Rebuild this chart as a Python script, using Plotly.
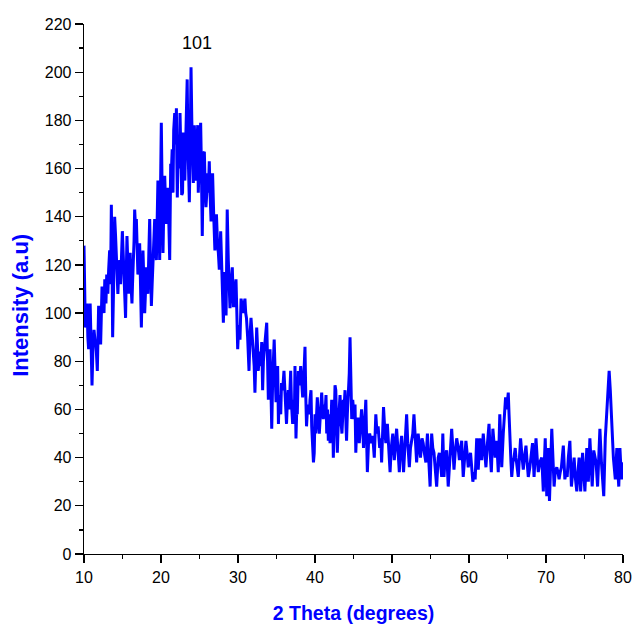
import plotly.graph_objects as go

two_theta = [
    10.0, 10.17, 10.3, 10.4, 10.5, 10.6, 10.8, 10.9, 11.04, 11.15, 11.3, 11.45, 11.56, 11.73, 11.9,
    12.05, 12.16, 12.34, 12.45, 12.6, 12.7, 12.85, 12.95, 13.1, 13.2, 13.33, 13.45, 13.55, 13.65, 13.72,
    13.85, 13.98, 14.1, 14.2, 14.3, 14.4, 14.52, 14.63, 14.75, 14.85, 14.98, 15.1, 15.2, 15.3, 15.4,
    15.5, 15.58, 15.7, 15.8, 15.9, 16.0, 16.1, 16.23, 16.3, 16.4, 16.5, 16.58, 16.7, 16.8, 16.9,
    17.0, 17.1, 17.23, 17.35, 17.45, 17.55, 17.66, 17.78, 17.88, 18.0, 18.1, 18.2, 18.3, 18.42, 18.53,
    18.65, 18.75, 18.85, 18.96, 19.07, 19.18, 19.3, 19.4, 19.5, 19.6, 19.72, 19.83, 19.93, 20.04, 20.15,
    20.26, 20.39, 20.48, 20.6, 20.7, 20.8, 20.9, 21.0, 21.13, 21.26, 21.34, 21.45, 21.56, 21.65, 21.78,
    21.9, 22.0, 22.06, 22.12, 22.25, 22.35, 22.47, 22.6, 22.69, 22.8, 22.9, 23.0, 23.1, 23.2, 23.3,
    23.4, 23.5, 23.6, 23.68, 23.8, 23.9, 24.0, 24.1, 24.2, 24.33, 24.45, 24.55, 24.65, 24.77, 24.84,
    24.98, 25.07, 25.15, 25.25, 25.36, 25.5, 25.63, 25.75, 25.84, 25.93, 26.05, 26.15, 26.27, 26.37, 26.5,
    26.6, 26.7, 26.85, 27.0, 27.1, 27.2, 27.35, 27.45, 27.57, 27.65, 27.75, 27.9, 28.0, 28.1, 28.2,
    28.3, 28.45, 28.6, 28.74, 28.87, 28.96, 29.1, 29.26, 29.4, 29.5, 29.6, 29.74, 29.85, 29.96, 30.1,
    30.26, 30.4, 30.55, 30.69, 30.8, 30.9, 31.0, 31.1, 31.25, 31.43, 31.55, 31.69, 31.85, 31.99, 32.1,
    32.2, 32.3, 32.43, 32.55, 32.64, 32.75, 32.86, 32.97, 33.08, 33.2, 33.3, 33.45, 33.64, 33.73, 33.84,
    33.94, 34.05, 34.16, 34.27, 34.38, 34.5, 34.7, 34.85, 34.94, 35.0, 35.15, 35.25, 35.35, 35.45, 35.55,
    35.65, 35.8, 35.97, 36.1, 36.23, 36.3, 36.4, 36.53, 36.65, 36.84, 36.95, 37.1, 37.2, 37.31, 37.4,
    37.53, 37.63, 37.7, 37.83, 37.96, 38.14, 38.25, 38.4, 38.55, 38.7, 38.8, 38.9, 39.05, 39.26, 39.35,
    39.48, 39.57, 39.7, 39.8, 39.9, 40.0, 40.1, 40.2, 40.3, 40.45, 40.56, 40.7, 40.87, 40.97, 41.08,
    41.2, 41.3, 41.43, 41.52, 41.63, 41.73, 41.85, 41.95, 42.05, 42.17, 42.3, 42.38, 42.5, 42.6, 42.7,
    42.8, 42.9, 43.0, 43.1, 43.25, 43.38, 43.5, 43.6, 43.68, 43.8, 43.9, 44.03, 44.1, 44.2, 44.32,
    44.45, 44.55, 44.65, 44.77, 44.9, 44.97, 45.1, 45.2, 45.3, 45.45, 45.6, 45.75, 45.9, 46.05, 46.2,
    46.3, 46.45, 46.6, 46.7, 46.8, 46.95, 47.1, 47.3, 47.5, 47.7, 47.9, 48.05, 48.2, 48.4, 48.55,
    48.65, 48.9, 49.05, 49.2, 49.4, 49.6, 49.75, 49.9, 50.1, 50.3, 50.45, 50.6, 50.8, 50.95, 51.1,
    51.25, 51.5, 51.7, 51.9, 52.05, 52.25, 52.4, 52.55, 52.7, 52.85, 53.0, 53.2, 53.4, 53.55, 53.7,
    53.9, 54.05, 54.2, 54.4, 54.6, 54.75, 54.95, 55.15, 55.3, 55.45, 55.6, 55.8, 56.0, 56.15, 56.3,
    56.45, 56.6, 56.75, 56.9, 57.1, 57.3, 57.5, 57.75, 57.9, 58.05, 58.2, 58.4, 58.6, 58.75, 58.9,
    59.05, 59.25, 59.4, 59.6, 59.75, 59.9, 60.05, 60.2, 60.35, 60.5, 60.65, 60.8, 61.0, 61.2, 61.4,
    61.55, 61.65, 61.85, 62.0, 62.2, 62.4, 62.6, 62.75, 62.9, 63.1, 63.25, 63.4, 63.6, 63.8, 64.0,
    64.1, 64.25, 64.45, 64.6, 64.75, 64.9, 65.1, 65.2, 65.3, 65.45, 65.55, 65.7, 65.85, 66.0, 66.1,
    66.25, 66.4, 66.55, 66.7, 66.9, 67.05, 67.2, 67.4, 67.55, 67.7, 67.9, 68.0, 68.25, 68.45, 68.7,
    68.85, 69.0, 69.2, 69.45, 69.65, 69.9, 70.1, 70.3, 70.45, 70.6, 70.75, 70.9, 71.05, 71.2, 71.4,
    71.55, 71.7, 71.85, 72.0, 72.25, 72.45, 72.6, 72.75, 72.9, 73.1, 73.3, 73.45, 73.65, 73.8, 74.0,
    74.15, 74.3, 74.5, 74.75, 74.9, 75.05, 75.3, 75.5, 75.7, 76.0, 76.2, 76.35, 76.5, 76.7, 76.85,
    77.0, 77.2, 77.35, 77.5, 77.7, 77.9, 78.05, 78.2, 78.35, 78.5, 78.6, 78.75, 79.0, 79.2, 79.3,
    79.45, 79.6, 79.7, 79.8, 79.9, 80.0,
]

intensity = [
    128, 94, 100, 104, 90, 85, 104, 88, 70, 84, 93, 88, 87, 76, 103,
    92, 87, 111, 104, 100, 114, 104, 116, 108, 118, 126, 112, 145, 118, 90,
    112, 140, 132, 122, 116, 108, 118, 122, 112, 125, 134, 124, 115, 108, 98,
    118, 132, 120, 108, 118, 125, 112, 104, 112, 119, 130, 143, 135, 139, 128,
    116, 122, 129, 110, 94, 110, 126, 112, 100, 110, 119, 112, 108, 125, 139,
    118, 103, 112, 122, 130, 139, 128, 122, 138, 155, 140, 122, 149, 179, 150,
    125, 149, 157, 145, 137, 148, 152, 140, 122, 162, 158, 168, 150, 176, 183,
    170, 185, 162, 148, 174, 160, 183, 165, 149, 150, 175, 160, 155, 170, 185,
    197, 170, 152, 146, 172, 202, 180, 159, 154, 178, 165, 155, 170, 178, 150,
    163, 172, 179, 160, 132, 166, 167, 150, 144, 149, 158, 150, 163, 150, 138,
    150, 158, 140, 126, 135, 141, 128, 125, 118, 126, 134, 118, 108, 96, 110,
    117, 99, 143, 122, 104, 102, 112, 119, 103, 103, 110, 114, 100, 85, 95,
    89, 106, 102, 100, 104, 106, 100, 98, 90, 76, 90, 98, 90, 85, 78,
    67, 82, 94, 85, 76, 84, 82, 78, 88, 68, 80, 86, 96, 96, 80,
    64, 78, 85, 70, 52, 72, 89, 72, 63, 65, 78, 54, 66, 62, 58,
    71, 68, 76, 65, 60, 54, 62, 68, 60, 76, 62, 54, 64, 54, 78,
    48, 60, 58, 76, 70, 78, 70, 65, 74, 86, 66, 53, 62, 58, 64,
    68, 53, 45, 38, 42, 58, 50, 57, 65, 55, 50, 58, 67, 60, 56,
    62, 58, 66, 50, 60, 47, 58, 46, 52, 64, 58, 40, 56, 70, 68,
    55, 42, 52, 60, 66, 55, 50, 57, 64, 62, 68, 53, 47, 58, 64,
    75, 90, 72, 56, 64, 60, 56, 62, 42, 56, 56, 46, 52, 60, 52,
    44, 54, 64, 48, 34, 46, 50, 46, 49, 40, 58, 50, 53, 44, 48,
    38, 61, 52, 46, 54, 44, 34, 44, 50, 39, 46, 52, 42, 34, 44,
    49, 34, 46, 58, 46, 36, 44, 47, 50, 58, 48, 38, 50, 44, 40,
    48, 46, 42, 38, 50, 40, 28, 50, 44, 42, 36, 28, 40, 42, 38,
    32, 50, 32, 40, 43, 28, 40, 52, 44, 35, 42, 48, 44, 39, 43,
    47, 32, 40, 47, 42, 36, 40, 42, 36, 30, 34, 31, 48, 35, 48,
    42, 39, 50, 44, 36, 46, 54, 42, 34, 52, 46, 40, 47, 34, 58,
    46, 36, 50, 56, 65, 60, 67, 58, 47, 38, 32, 38, 40, 44, 40,
    36, 32, 40, 48, 40, 35, 40, 45, 38, 32, 36, 39, 46, 32, 48,
    40, 34, 38, 40, 26, 48, 24, 44, 22, 36, 52, 40, 28, 34, 36,
    34, 31, 34, 36, 45, 31, 34, 32, 40, 47, 28, 34, 40, 32, 26,
    34, 40, 26, 42, 34, 26, 44, 30, 48, 28, 43, 40, 38, 28, 40,
    52, 38, 28, 24, 48, 61, 72, 76, 68, 57, 48, 40, 31, 44, 36,
    28, 44, 38, 31, 38, 35,
]

x_ticks = [10, 20, 30, 40, 50, 60, 70, 80]
y_ticks = [0, 20, 40, 60, 80, 100, 120, 140, 160, 180, 200, 220]
peak_label = "101"
peak_pos = (24.7, 212)
y_title = "Intensity (a.u)"
x_title = "2 Theta (degrees)"

fig = go.Figure()
fig.add_trace(go.Scatter(
    x=two_theta, y=intensity, mode="lines",
    line=dict(color="#0000FF", width=3),
    showlegend=False, hoverinfo="skip",
))

axis_common = dict(
    showline=True, linecolor="black", linewidth=1.3,
    ticks="outside", ticklen=8, tickwidth=1.3, tickcolor="black",
    showgrid=False, zeroline=False, automargin=False,
    tickfont=dict(family="Liberation Sans, Arial", size=16, color="black"),
    minor=dict(ticks="outside", ticklen=4, tickwidth=1.3, tickcolor="black", showgrid=False),
)

fig.update_xaxes(
    range=[10, 80], tickvals=x_ticks, ticktext=[str(v) for v in x_ticks],
    title=dict(text="<b>" + x_title + "</b>",
               font=dict(family="Liberation Sans, Arial", size=19.5, color="#0000FF"),
               standoff=21),
    **axis_common,
)
fig.update_xaxes(minor=dict(dtick=5, tick0=0))

fig.update_yaxes(
    range=[0, 220], tickvals=y_ticks, ticktext=[str(v) for v in y_ticks],
    **axis_common,
)
fig.update_yaxes(minor=dict(dtick=10, tick0=0))

# y-axis title as a rotated annotation (sits a little below the axis centre, as in the reference)
fig.add_annotation(
    xref="paper", yref="paper", x=-0.117, y=0.47,
    xanchor="center", yanchor="middle", textangle=-90,
    text="<b>" + y_title + "</b>", showarrow=False,
    font=dict(family="Liberation Sans, Arial", size=22, color="#0000FF"),
)

fig.add_annotation(
    x=peak_pos[0], y=peak_pos[1], text=peak_label, showarrow=False,
    font=dict(family="Liberation Sans, Arial", size=18, color="black"),
)

fig.update_layout(
    width=632, height=627,
    margin=dict(l=84, r=9, t=24, b=73),
    paper_bgcolor="white", plot_bgcolor="white",
)

# remove the default page margin so the figure fills the window exactly
fig.write_html(
    "out.html",
    config={"displayModeBar": False, "staticPlot": True},
    post_script="document.body.style.margin='0';document.body.style.overflow='hidden';",
)
